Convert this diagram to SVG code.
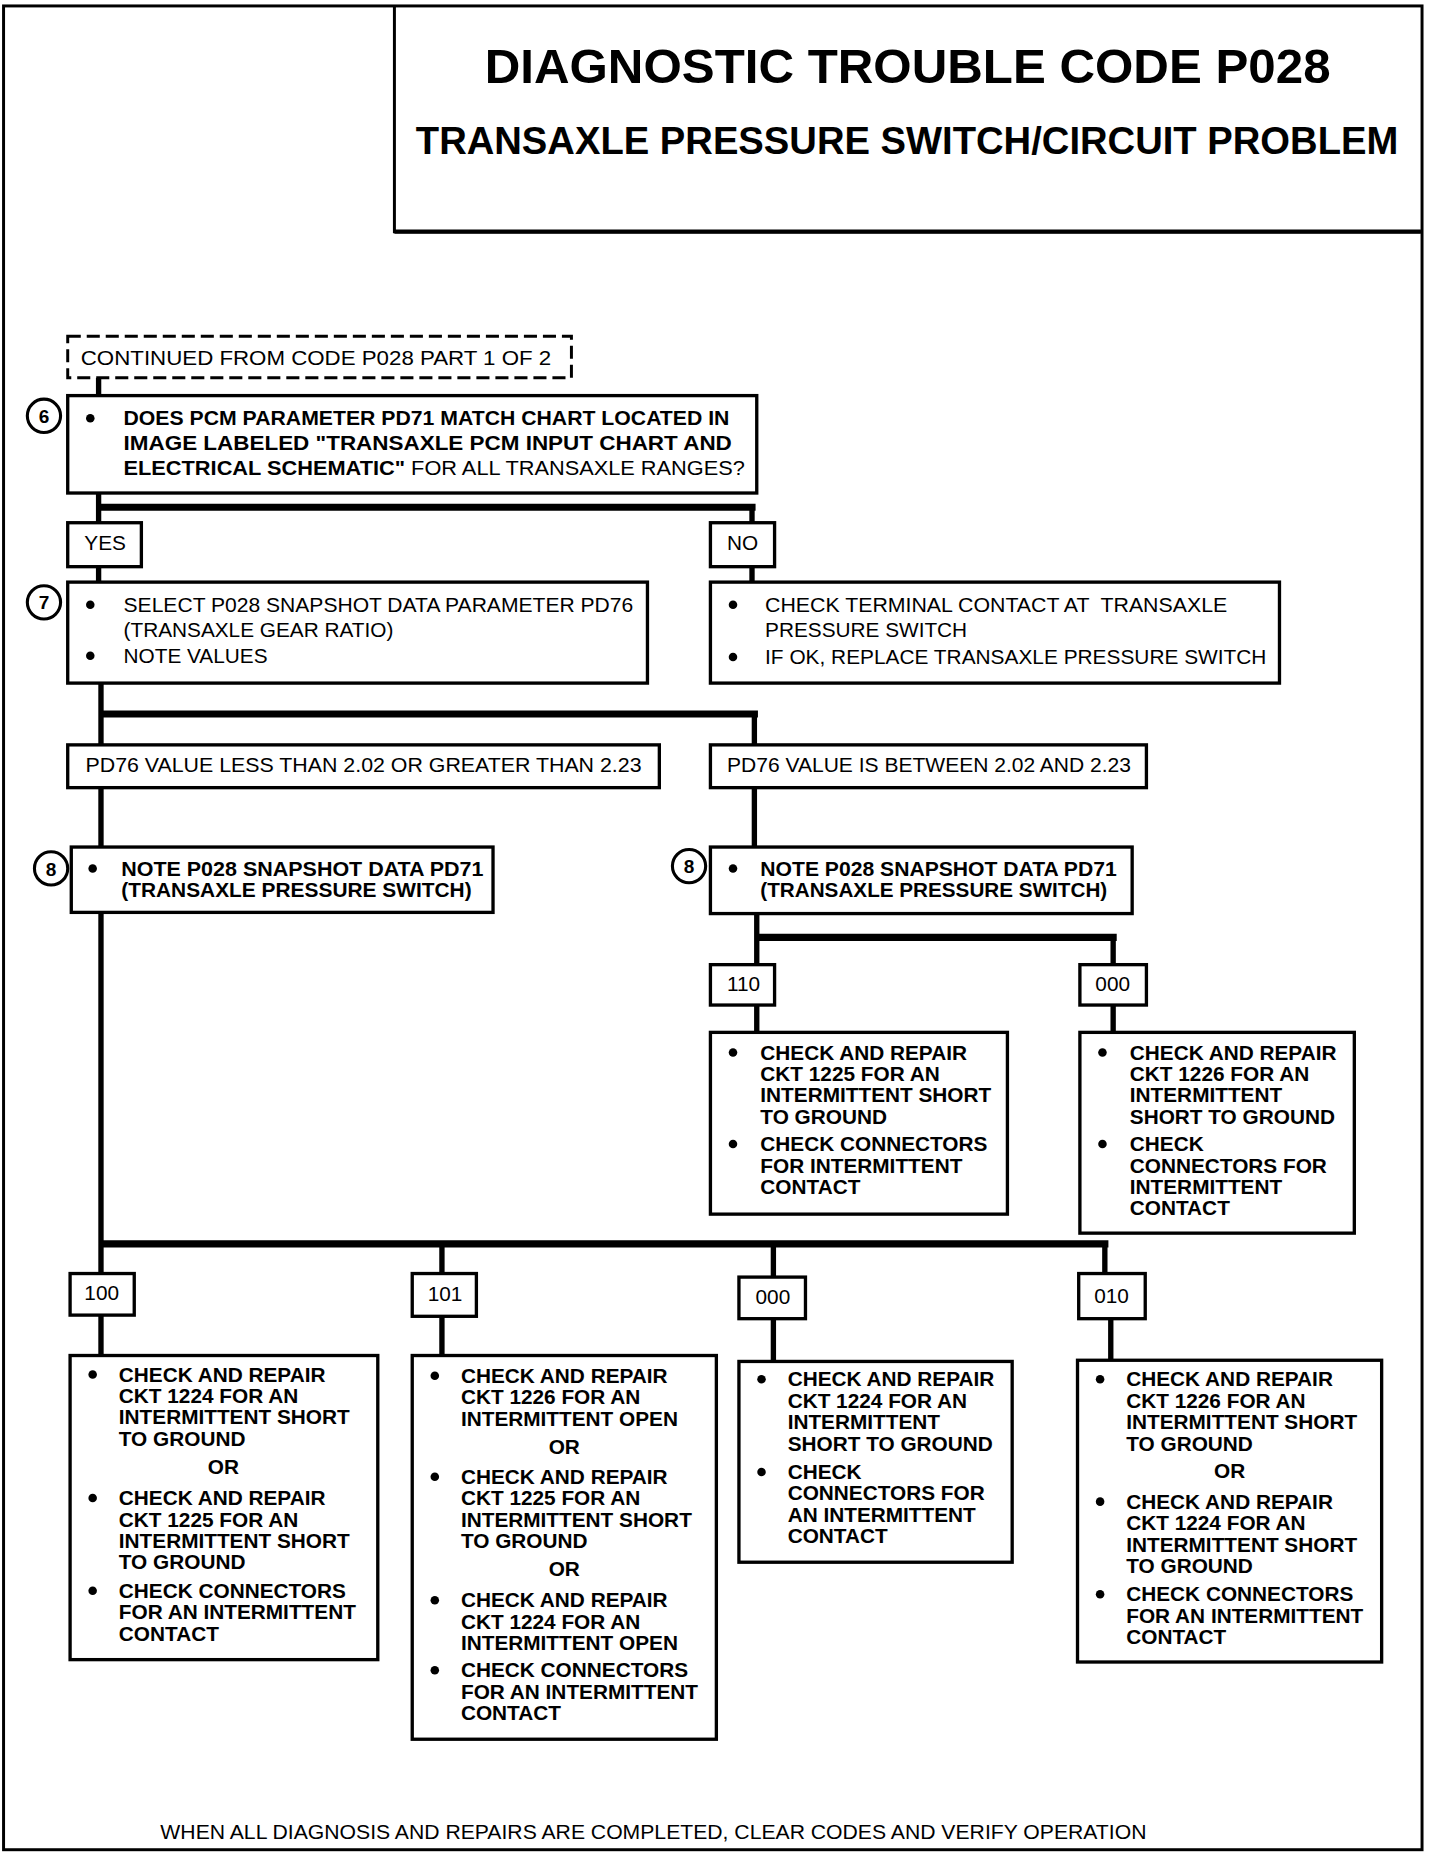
<svg xmlns="http://www.w3.org/2000/svg" width="1440" height="1862" viewBox="0 0 1440 1862">
<style>
.frame{fill:none;stroke:#000;stroke-width:2.5}
.box{fill:#fff;stroke:#000;stroke-width:2.8}
.dash{fill:#fff;stroke:#000;stroke-width:2.5;stroke-dasharray:11 5}
.conn{fill:none;stroke:#000;stroke-width:4.5}
.bus{fill:none;stroke:#000;stroke-width:6}
.num{fill:#fff;stroke:#000;stroke-width:2.6}
text{font-family:"Liberation Sans",Arial,Helvetica,sans-serif;fill:#000}
.t{font-size:17.5px;font-weight:bold}
.r{font-size:17.5px}
.n{font-size:16px;font-weight:bold;text-anchor:middle}
.or{text-anchor:middle}
.h1{font-size:41px;font-weight:bold}
.h2{font-size:33px;font-weight:bold}
</style>
<defs>
<circle id="dot" r="3.6" fill="#000"/>
</defs>
<rect width="1440" height="1862" fill="#fff"/>
<g transform="scale(1.188)">
<g id="frame">
<rect class="frame" x="3" y="5" width="1194" height="1552"/>
</g>
<g id="title">
<path class="frame" d="M332 5 V195 H1196"/>
<path d="M332 195 H1196" stroke="#000" stroke-width="3.5"/>
<text class="h1" x="408" y="70" textLength="712" lengthAdjust="spacingAndGlyphs">DIAGNOSTIC TROUBLE CODE P028</text>
<text class="h2" x="350" y="130" textLength="827" lengthAdjust="spacingAndGlyphs">TRANSAXLE PRESSURE SWITCH/CIRCUIT PROBLEM</text>
</g>
<g id="connectors">
<path class="conn" d="M83 318 V333 M83 415 V440 M633 427 V440 M83 477 V490 M633 477 V490 M85 575 V627 M635 601 V627 M85 663 V1047 M635 663 V713 M637 769 V812 M937 789 V812 M637 846 V869 M937 846 V869 M85 1047 V1072 M372 1047 V1072 M651 1047 V1075 M930 1047 V1072 M85 1107 V1141 M372 1108 V1141 M651 1110 V1146 M935 1110 V1145"/>
<path class="bus" d="M83 427 H636 M85 601 H638 M637 789 H940 M85 1047 H933"/>
</g>
<g id="continued">
<rect class="dash" x="57" y="283" width="424" height="35"/>
<text class="r" x="68" y="307" textLength="396" lengthAdjust="spacingAndGlyphs">CONTINUED FROM CODE P028 PART 1 OF 2</text>
</g>
<g id="step6">
<rect class="box" x="57" y="333" width="580" height="82"/>
<circle class="num" cx="37" cy="350" r="14"/>
<text class="n" x="37" y="356">6</text>
<use href="#dot" x="76" y="352"/>
<text class="t" x="104" y="358" textLength="510" lengthAdjust="spacingAndGlyphs">DOES PCM PARAMETER PD71 MATCH CHART LOCATED IN</text>
<text class="t" x="104" y="379" textLength="512" lengthAdjust="spacingAndGlyphs">IMAGE  LABELED "TRANSAXLE PCM INPUT CHART AND</text>
<text class="t" x="104" y="400" textLength="523" lengthAdjust="spacingAndGlyphs">ELECTRICAL SCHEMATIC"<tspan font-weight="normal"> FOR ALL TRANSAXLE RANGES?</tspan></text>
</g>
<g id="yes">
<rect class="box" x="57" y="440" width="62" height="37"/>
<text class="r" x="71" y="463">YES</text>
</g>
<g id="no">
<rect class="box" x="598" y="440" width="54" height="37"/>
<text class="r" x="612" y="463">NO</text>
</g>
<g id="step7">
<rect class="box" x="57" y="490" width="488" height="85"/>
<circle class="num" cx="37" cy="507" r="14"/>
<text class="n" x="37" y="513">7</text>
<use href="#dot" x="76" y="509"/>
<text class="r" x="104" y="515" textLength="429" lengthAdjust="spacingAndGlyphs">SELECT P028 SNAPSHOT DATA PARAMETER PD76</text>
<text class="r" x="104" y="536">(TRANSAXLE GEAR RATIO)</text>
<use href="#dot" x="76" y="552"/>
<text class="r" x="104" y="558">NOTE VALUES</text>
</g>
<g id="noAction">
<rect class="box" x="598" y="490" width="479" height="85"/>
<use href="#dot" x="617" y="509"/>
<text class="r" x="644" y="515" textLength="389" lengthAdjust="spacingAndGlyphs" xml:space="preserve">CHECK TERMINAL CONTACT AT  TRANSAXLE</text>
<text class="r" x="644" y="536">PRESSURE SWITCH</text>
<use href="#dot" x="617" y="553"/>
<text class="r" x="644" y="559" textLength="422" lengthAdjust="spacingAndGlyphs">IF OK, REPLACE TRANSAXLE PRESSURE SWITCH</text>
</g>
<g id="pd76out">
<rect class="box" x="57" y="627" width="498" height="36"/>
<text class="r" x="72" y="650" textLength="468" lengthAdjust="spacingAndGlyphs">PD76 VALUE LESS THAN 2.02 OR GREATER THAN 2.23</text>
</g>
<g id="pd76in">
<rect class="box" x="598" y="627" width="367" height="36"/>
<text class="r" x="612" y="650" textLength="340" lengthAdjust="spacingAndGlyphs">PD76 VALUE IS BETWEEN 2.02 AND 2.23</text>
</g>
<g id="step8left">
<rect class="box" x="60" y="713" width="355" height="55"/>
<circle class="num" cx="43" cy="731" r="14"/>
<text class="n" x="43" y="737">8</text>
<use href="#dot" x="78" y="731"/>
<text class="t" x="102" y="737" textLength="305" lengthAdjust="spacingAndGlyphs">NOTE P028 SNAPSHOT DATA PD71</text>
<text class="t" x="102" y="755" textLength="295" lengthAdjust="spacingAndGlyphs">(TRANSAXLE PRESSURE SWITCH)</text>
</g>
<g id="step8right">
<rect class="box" x="598" y="713" width="355" height="56"/>
<circle class="num" cx="580" cy="729" r="14"/>
<text class="n" x="580" y="735">8</text>
<use href="#dot" x="617" y="731"/>
<text class="t" x="640" y="737" textLength="300" lengthAdjust="spacingAndGlyphs">NOTE P028 SNAPSHOT DATA PD71</text>
<text class="t" x="640" y="755" textLength="292" lengthAdjust="spacingAndGlyphs">(TRANSAXLE PRESSURE SWITCH)</text>
</g>
<g id="code110">
<rect class="box" x="598" y="812" width="54" height="34"/>
<text class="r" x="612" y="834">110</text>
</g>
<g id="code000a">
<rect class="box" x="909" y="812" width="56" height="34"/>
<text class="r" x="922" y="834">000</text>
</g>
<g id="action110">
<rect class="box" x="598" y="869" width="250" height="153"/>
<use href="#dot" x="617" y="886"/>
<text class="t" x="640" y="892">CHECK AND REPAIR</text>
<text class="t" x="640" y="910">CKT 1225 FOR AN</text>
<text class="t" x="640" y="928">INTERMITTENT SHORT</text>
<text class="t" x="640" y="946">TO GROUND</text>
<use href="#dot" x="617" y="963"/>
<text class="t" x="640" y="969">CHECK CONNECTORS</text>
<text class="t" x="640" y="987">FOR INTERMITTENT</text>
<text class="t" x="640" y="1005">CONTACT</text>
</g>
<g id="action000a">
<rect class="box" x="909" y="869" width="231" height="169"/>
<use href="#dot" x="928" y="886"/>
<text class="t" x="951" y="892">CHECK AND REPAIR</text>
<text class="t" x="951" y="910">CKT 1226 FOR AN</text>
<text class="t" x="951" y="928">INTERMITTENT</text>
<text class="t" x="951" y="946">SHORT TO GROUND</text>
<use href="#dot" x="928" y="963"/>
<text class="t" x="951" y="969">CHECK</text>
<text class="t" x="951" y="987">CONNECTORS FOR</text>
<text class="t" x="951" y="1005">INTERMITTENT</text>
<text class="t" x="951" y="1023">CONTACT</text>
</g>
<g id="code100">
<rect class="box" x="59" y="1072" width="54" height="35"/>
<text class="r" x="71" y="1094">100</text>
</g>
<g id="code101">
<rect class="box" x="347" y="1072" width="54" height="36"/>
<text class="r" x="360" y="1095">101</text>
</g>
<g id="code000b">
<rect class="box" x="622" y="1075" width="56" height="35"/>
<text class="r" x="636" y="1098">000</text>
</g>
<g id="code010">
<rect class="box" x="908" y="1072" width="56" height="38"/>
<text class="r" x="921" y="1097">010</text>
</g>
<g id="action100">
<rect class="box" x="59" y="1141" width="259" height="256"/>
<use href="#dot" x="78" y="1157"/>
<text class="t" x="100" y="1163">CHECK AND REPAIR</text>
<text class="t" x="100" y="1181">CKT 1224 FOR AN</text>
<text class="t" x="100" y="1199">INTERMITTENT SHORT</text>
<text class="t" x="100" y="1217">TO GROUND</text>
<text class="t or" x="188" y="1241">OR</text>
<use href="#dot" x="78" y="1261"/>
<text class="t" x="100" y="1267">CHECK AND REPAIR</text>
<text class="t" x="100" y="1285">CKT 1225 FOR AN</text>
<text class="t" x="100" y="1303">INTERMITTENT SHORT</text>
<text class="t" x="100" y="1321">TO GROUND</text>
<use href="#dot" x="78" y="1339"/>
<text class="t" x="100" y="1345">CHECK CONNECTORS</text>
<text class="t" x="100" y="1363">FOR AN INTERMITTENT</text>
<text class="t" x="100" y="1381">CONTACT</text>
</g>
<g id="action101">
<rect class="box" x="347" y="1141" width="256" height="323"/>
<use href="#dot" x="366" y="1158"/>
<text class="t" x="388" y="1164">CHECK AND REPAIR</text>
<text class="t" x="388" y="1182">CKT 1226 FOR AN</text>
<text class="t" x="388" y="1200">INTERMITTENT OPEN</text>
<text class="t or" x="475" y="1224">OR</text>
<use href="#dot" x="366" y="1243"/>
<text class="t" x="388" y="1249">CHECK AND REPAIR</text>
<text class="t" x="388" y="1267">CKT 1225 FOR AN</text>
<text class="t" x="388" y="1285">INTERMITTENT SHORT</text>
<text class="t" x="388" y="1303">TO GROUND</text>
<text class="t or" x="475" y="1327">OR</text>
<use href="#dot" x="366" y="1347"/>
<text class="t" x="388" y="1353">CHECK AND REPAIR</text>
<text class="t" x="388" y="1371">CKT 1224 FOR AN</text>
<text class="t" x="388" y="1389">INTERMITTENT OPEN</text>
<use href="#dot" x="366" y="1406"/>
<text class="t" x="388" y="1412">CHECK CONNECTORS</text>
<text class="t" x="388" y="1430">FOR AN INTERMITTENT</text>
<text class="t" x="388" y="1448">CONTACT</text>
</g>
<g id="action000b">
<rect class="box" x="622" y="1146" width="230" height="169"/>
<use href="#dot" x="641" y="1161"/>
<text class="t" x="663" y="1167">CHECK AND REPAIR</text>
<text class="t" x="663" y="1185">CKT 1224 FOR AN</text>
<text class="t" x="663" y="1203">INTERMITTENT</text>
<text class="t" x="663" y="1221">SHORT TO GROUND</text>
<use href="#dot" x="641" y="1239"/>
<text class="t" x="663" y="1245">CHECK</text>
<text class="t" x="663" y="1263">CONNECTORS FOR</text>
<text class="t" x="663" y="1281">AN INTERMITTENT</text>
<text class="t" x="663" y="1299">CONTACT</text>
</g>
<g id="action010">
<rect class="box" x="907" y="1145" width="256" height="254"/>
<use href="#dot" x="926" y="1161"/>
<text class="t" x="948" y="1167">CHECK AND REPAIR</text>
<text class="t" x="948" y="1185">CKT 1226 FOR AN</text>
<text class="t" x="948" y="1203">INTERMITTENT SHORT</text>
<text class="t" x="948" y="1221">TO GROUND</text>
<text class="t or" x="1035" y="1244">OR</text>
<use href="#dot" x="926" y="1264"/>
<text class="t" x="948" y="1270">CHECK AND REPAIR</text>
<text class="t" x="948" y="1288">CKT 1224 FOR AN</text>
<text class="t" x="948" y="1306">INTERMITTENT SHORT</text>
<text class="t" x="948" y="1324">TO GROUND</text>
<use href="#dot" x="926" y="1342"/>
<text class="t" x="948" y="1348">CHECK CONNECTORS</text>
<text class="t" x="948" y="1366">FOR AN INTERMITTENT</text>
<text class="t" x="948" y="1384">CONTACT</text>
</g>
<g id="footer">
<text class="r" x="135" y="1548" textLength="830" lengthAdjust="spacingAndGlyphs">WHEN ALL DIAGNOSIS AND REPAIRS ARE COMPLETED, CLEAR CODES AND VERIFY OPERATION</text>
</g>
</g>
</svg>
